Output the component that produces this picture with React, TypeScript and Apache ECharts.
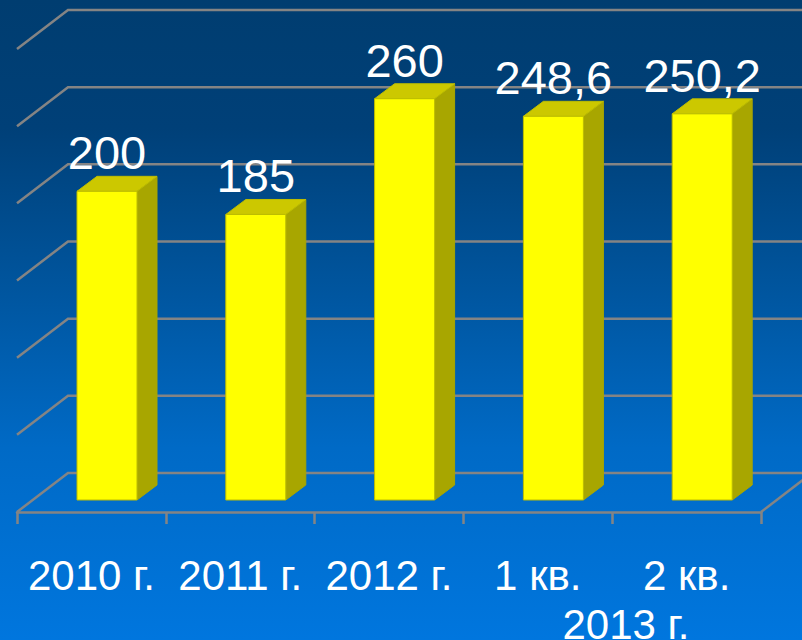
import React, { useEffect, useRef } from "react";
import * as echarts from "echarts";

const categories = ["2010 г.", "2011 г.", "2012 г.", "1 кв.", "2 кв."];
const values = [200, 185, 260, 248.6, 250.2];
const valueLabels = ["200", "185", "260", "248,6", "250,2"];
const gridTicks = [0, 50, 100, 150, 200, 250, 300];
const groupLabel = "2013 г.";

const FONT = '"Liberation Sans", Arial, sans-serif';
const FLOOR_DX = 51;
const FLOOR_DY = -39;
const BAR_SHIFT_X = 15.6;
const BAR_SHIFT_Y = -12;
const BAR_W = 60;
const BAR_DX = 20;
const BAR_DY = -15;

export default function App() {
  const ref = useRef<HTMLDivElement>(null);
  useEffect(() => {
    const chart = echarts.init(ref.current!, null, { renderer: "svg" });
    const option: any = {
      animation: false,
      backgroundColor: new echarts.graphic.LinearGradient(0, 0, 0, 1, [
        { offset: 0, color: "#003D70" },
        { offset: 0.2, color: "#004078" },
        { offset: 0.45, color: "#00559E" },
        { offset: 0.7, color: "#006AC6" },
        { offset: 1, color: "#0076DE" },
      ]),
      grid: { left: 17, right: 41, top: 49, bottom: 128 },
      xAxis: {
        type: "category",
        data: categories,
        axisLine: { lineStyle: { color: "#848484", width: 2.5 } },
        axisTick: { show: true, alignWithLabel: false, length: 12, lineStyle: { color: "#848484", width: 2.5 } },
        axisLabel: { color: "#FFFFFF", fontSize: 42, fontFamily: FONT, margin: 42, interval: 0 },
      },
      yAxis: { type: "value", min: 0, max: 300, interval: 50, show: false, splitLine: { show: false } },
      graphic: [
        {
          type: "text",
          x: 626,
          y: 645,
          z: 10,
          style: {
            text: groupLabel,
            fill: "#FFFFFF",
            font: `42px ${FONT}`,
            align: "center",
            verticalAlign: "bottom",
          },
        },
      ],
      series: [
        {
          type: "custom",
          coordinateSystem: "cartesian2d",
          z: 1,
          silent: true,
          data: gridTicks.map((t) => [0, t]),
          renderItem: (params: any, api: any) => {
            const y = api.coord([0, api.value(1)])[1];
            const x0 = params.coordSys.x;
            const x1 = x0 + params.coordSys.width;
            const style = { stroke: "#848484", lineWidth: 2.5, fill: "none" };
            const pts: number[][] = [
              [x0, y],
              [x0 + FLOOR_DX, y + FLOOR_DY],
              [x1 + FLOOR_DX, y + FLOOR_DY],
            ];
            const children: any[] = [{ type: "polyline", shape: { points: pts }, style }];
            if (api.value(1) === 0) {
              children.push({
                type: "line",
                shape: { x1, y1: y, x2: x1 + FLOOR_DX, y2: y + FLOOR_DY },
                style,
              });
            }
            return { type: "group", children };
          },
        },
        {
          type: "custom",
          coordinateSystem: "cartesian2d",
          z: 2,
          silent: true,
          data: values.map((v, i) => [i, v]),
          renderItem: (_params: any, api: any) => {
            const i = api.value(0);
            const top = api.coord([i, api.value(1)]);
            const base = api.coord([i, 0]);
            const l = top[0] + BAR_SHIFT_X - BAR_W / 2;
            const r = l + BAR_W;
            const t = top[1] + BAR_SHIFT_Y;
            const b = base[1] + BAR_SHIFT_Y;
            const edge = { stroke: "#BDBD00", lineWidth: 1 };
            return {
              type: "group",
              children: [
                {
                  type: "polygon",
                  shape: { points: [[r, t], [r + BAR_DX, t + BAR_DY], [r + BAR_DX, b + BAR_DY], [r, b]] },
                  style: { fill: "#A8A600", stroke: "#A8A600", lineWidth: 1 },
                },
                {
                  type: "polygon",
                  shape: { points: [[l, t], [l + BAR_DX, t + BAR_DY], [r + BAR_DX, t + BAR_DY], [r, t]] },
                  style: { fill: "#CCC800", stroke: "#BDBD00", lineWidth: 1 },
                },
                {
                  type: "rect",
                  shape: { x: l, y: t, width: BAR_W, height: b - t },
                  style: { fill: "#FFFF00", ...edge },
                },
                {
                  type: "text",
                  x: top[0] + BAR_SHIFT_X,
                  y: t - 15,
                  style: {
                    text: valueLabels[i],
                    fill: "#FFFFFF",
                    font: `47px ${FONT}`,
                    align: "center",
                    verticalAlign: "bottom",
                  },
                },
              ],
            };
          },
        },
      ],
    };
    chart.setOption(option);
    return () => chart.dispose();
  }, []);
  return (
    <div
      ref={ref}
      style={{ position: "fixed", left: 0, top: 0, width: 802, height: 640, overflow: "hidden" }}
    />
  );
}
